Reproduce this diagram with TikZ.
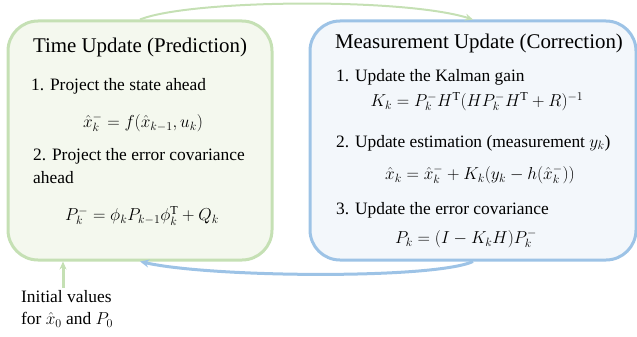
\documentclass[tikz,border=0pt]{standalone}
\usepackage{fontspec}
\setmainfont{Liberation Serif}[Ligatures=TeX]
\usetikzlibrary{arrows.meta}

\definecolor{gborder}{HTML}{C5E0B4}
\definecolor{gfill}{HTML}{F4F8EE}
\definecolor{bborder}{HTML}{9DC3E6}
\definecolor{bfill}{HTML}{F3F7FB}

\begin{document}
\begin{tikzpicture}[x=1pt, y=-1pt, font=\rmfamily]
        % Box and text style definitions
        \tikzset{
            loopbox/.style={rectangle, rounded corners=30pt, line width=3pt, inner sep=0pt},
            greenbox/.style={loopbox, draw=gborder, fill=gfill, minimum width=264pt, minimum height=239pt},
            bluebox/.style={loopbox, draw=bborder, fill=bfill, minimum width=326pt, minimum height=239pt},
            heading/.style={inner sep=0pt, font=\rmfamily\fontsize{20.9}{25}\selectfont},
            item/.style={anchor=west, inner sep=0pt, font=\rmfamily\fontsize{17.4}{22}\selectfont},
            formula/.style={inner sep=0pt, font=\fontsize{17.4}{22}\selectfont},
            gline/.style={draw=gborder, line width=2pt, -{Stealth[length=8pt, width=7pt]}},
            bline/.style={draw=bborder, line width=3pt, -{Stealth[length=9pt, width=8pt]}}
        }
        \useasboundingbox (0,0) rectangle (637,337);

        % ==========================================
        % TIME UPDATE (left box)
        % ==========================================
        \node[greenbox] (tbox) at (140,140.5) {};
        \node[heading] (ttitle) at (140,47) {Time Update (Prediction)};
        \node[item] (tstep1) at (31,86) {1. Project the state ahead};
        \node[formula] (tform1) at (143,123) {$\hat{x}_k^- = f(\hat{x}_{k-1}, u_k)$};
        \node[item] (tstep2) at (33,156) {2. Project the error covariance};
        \node[item] (tstep2b) at (33,178) {ahead};
        \node[formula] (tform2) at (142,216) {$P_k^- = \phi_k P_{k-1} \phi_k^{\mathrm{T}} + Q_k$};

        % ==========================================
        % MEASUREMENT UPDATE (right box)
        % ==========================================
        \node[bluebox] (mbox) at (473,140.5) {};
        \node[heading] (mtitle) at (479,43) {Measurement Update (Correction)};
        \node[item] (mstep1) at (336,77) {1. Update the Kalman gain};
        \node[formula] (mform1) at (477,102) {$K_k = P_k^- H^{\mathrm{T}} (H P_k^- H^{\mathrm{T}} + R)^{-1}$};
        \node[item] (mstep2) at (336,143) {2. Update estimation (measurement $y_k$)};
        \node[formula] (mform2) at (480,175) {$\hat{x}_k = \hat{x}_k^- + K_k (y_k - h(\hat{x}_k^-))$};
        \node[item] (mstep3) at (336,210) {3. Update the error covariance};
        \node[formula] (mform3) at (466,239) {$P_k = (I - K_k H) P_k^-$};

        % ==========================================
        % LOOP ARROWS
        % ==========================================
        % Prediction -> correction over the top
        \draw[gline] (tbox.north) .. controls +(50,-20) and +(-70,-22) .. (mbox.north);
        % Correction -> prediction along the bottom
        \draw[bline] (mbox.south) .. controls +(-40,18) and +(70,16) .. (tbox.south);

        % Initial values feeding the time update
        \node[item, align=left] (init) at (21,309) {Initial values\\for $\hat{x}_0$ and $P_0$};
        \coordinate (initup) at (63,288);
        \draw[gline, line width=3pt] (initup) -- (initup |- tbox.south);

    \end{tikzpicture}
\end{document}
